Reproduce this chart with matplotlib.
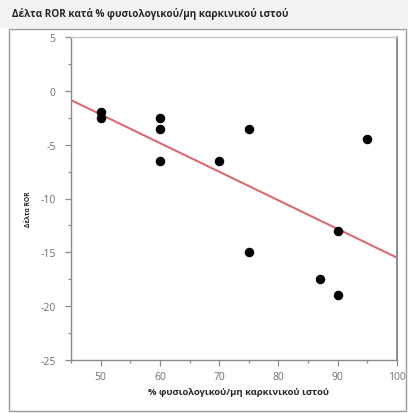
import numpy as np
import matplotlib
matplotlib.use("Agg")
import matplotlib.pyplot as plt
from matplotlib.patches import Rectangle
from matplotlib.ticker import MultipleLocator

plt.rcParams['font.family'] = ['Open Sans', 'DejaVu Sans']
plt.rcParams['axes.unicode_minus'] = False

title = "Δέλτα ROR κατά % φυσιολογικού/μη καρκινικού ιστού"
x_label = "% φυσιολογικού/μη καρκινικού ιστού"
y_label = "Δέλτα ROR"

pct_normal = [50, 50, 60, 60, 60, 70, 75, 75, 87, 90, 90, 95]
delta_ror = [-2, -2.5, -2.5, -3.5, -6.5, -6.5, -3.5, -15, -17.5, -13, -19, -4.5]

x_ticks = [50, 60, 70, 80, 90, 100]
y_ticks = [5, 0, -5, -10, -15, -20, -25]

W, H = 408, 414
fig = plt.figure(figsize=(W / 100, H / 100), dpi=100)

# title band and frame
fig.patches.append(Rectangle((0, 1 - 29 / H), 1, 29 / H, transform=fig.transFigure,
                             facecolor='#f2f2f2', edgecolor='none', zorder=-2))
fig.patches.append(Rectangle((9 / W, 2 / H), (406 - 9) / W, (412 - 30) / H,
                             transform=fig.transFigure, facecolor='white',
                             edgecolor='#9a9a9a', linewidth=1.0, zorder=-1))
fig.text(12 / W, 1 - 14 / H, title, fontsize=7.2, fontweight='bold',
         color='#262626', va='center', ha='left')

ax = fig.add_axes([71 / W, 1 - 361 / H, (397 - 71) / W, (361 - 38) / H])
ax.set_zorder(2)
ax.scatter(pct_normal, delta_ror, s=34, color='black', zorder=3)

xmin, xmax = 45, 100
coef = np.polyfit(pct_normal, delta_ror, 1)
xs = np.array([xmin, xmax])
ax.plot(xs, np.polyval(coef, xs), color='#dc6a73', lw=1.5, zorder=2)

ax.set_xlim(xmin, xmax)
ax.set_ylim(-25, 5)
ax.set_xticks(x_ticks)
ax.set_yticks(y_ticks)
ax.xaxis.set_minor_locator(MultipleLocator(5))
ax.yaxis.set_minor_locator(MultipleLocator(2.5))
ax.tick_params(axis='both', which='major', direction='out', length=4, width=0.9,
               color='#8c8c8c', labelsize=7.5, labelcolor='#6f6f6f')
ax.tick_params(axis='both', which='minor', direction='out', length=2, width=0.9,
               color='#8c8c8c')
ax.tick_params(axis='x', which='major', pad=4)
ax.tick_params(axis='y', which='major', pad=7)

for side in ['left', 'bottom', 'right']:
    ax.spines[side].set_color('#8c8c8c')
    ax.spines[side].set_linewidth(1.0)
ax.spines['top'].set_color('#c8c8c8')
ax.spines['top'].set_linewidth(1.0)
ax.spines['right'].set_linewidth(1.4)

fig.text(238 / W, 1 - 393 / H, x_label, fontsize=6.8, fontweight='bold',
         color='#262626', ha='center', va='center')
fig.text(28 / W, 1 - 209 / H, y_label, fontsize=4.8, fontweight='bold',
         color='#262626', ha='center', va='center', rotation=90)

fig.savefig("out.png", dpi=100)
